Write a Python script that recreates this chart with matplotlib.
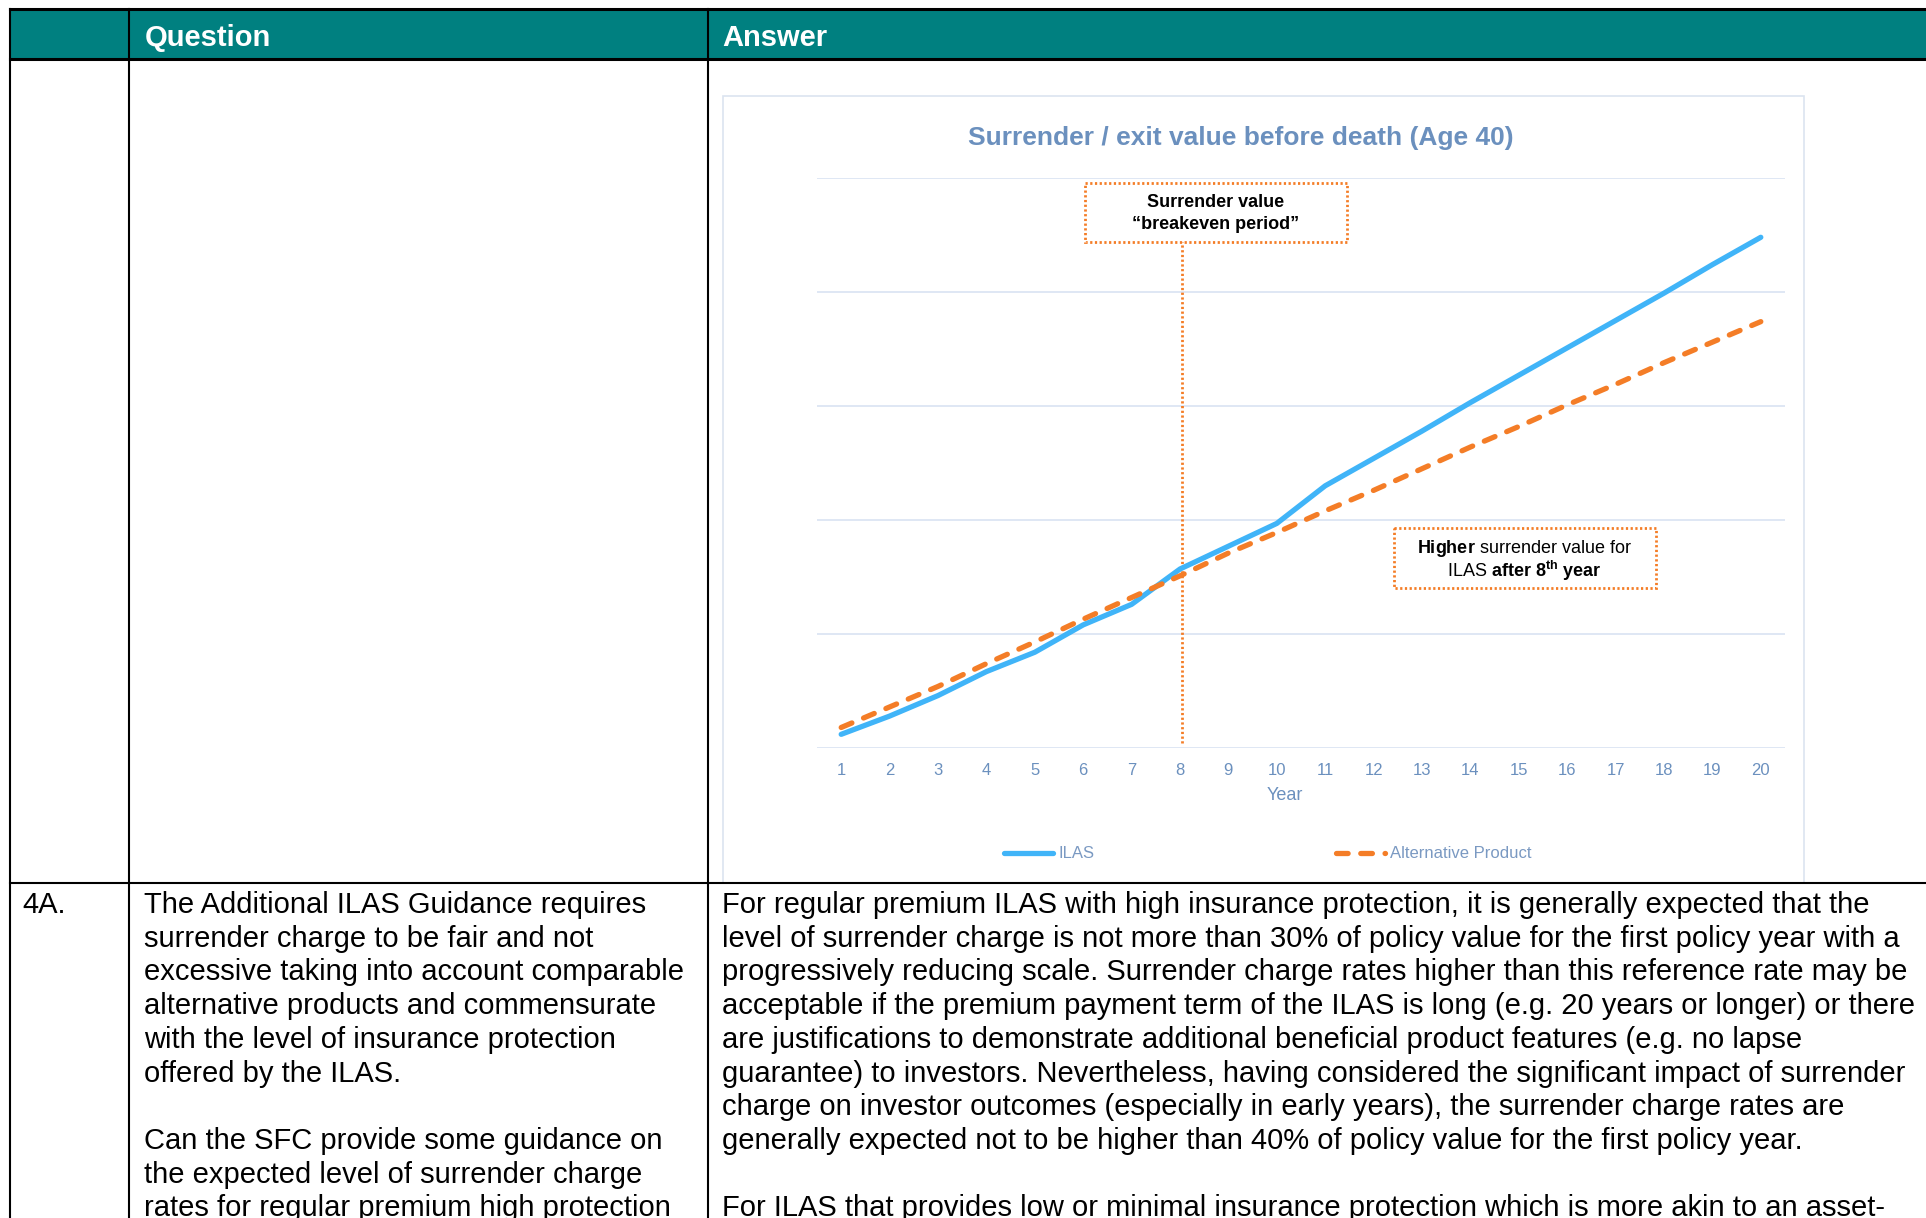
"""Surrender value chart embedded in a Q&A table (ILAS vs alternative product)."""
import matplotlib
matplotlib.use("Agg")
import matplotlib.pyplot as plt
from matplotlib.lines import Line2D
from matplotlib.patches import Rectangle

plt.rcParams['font.family'] = ['Liberation Sans', 'DejaVu Sans']
plt.rcParams['mathtext.fontset'] = 'custom'
plt.rcParams['mathtext.rm'] = 'Liberation Sans'
plt.rcParams['mathtext.bf'] = 'Liberation Sans:bold'
plt.rcParams['mathtext.it'] = 'Liberation Sans:italic'

# ---- data -------------------------------------------------------------
years = list(range(1, 21))
ilas = [0.12, 0.28, 0.46, 0.67, 0.84, 1.08, 1.26, 1.57, 1.77, 1.97,
        2.30, 2.54, 2.78, 3.03, 3.27, 3.51, 3.75, 3.99, 4.24, 4.48]
alternative = [0.18, 0.36, 0.54, 0.74, 0.93, 1.13, 1.32, 1.51, 1.71, 1.89,
               2.08, 2.26, 2.45, 2.64, 2.82, 3.01, 3.19, 3.38, 3.56, 3.74]
series_names = ["ILAS", "Alternative Product"]
breakeven_year = 8

chart_title = "Surrender / exit value before death (Age 40)"
header_cols = ["Question", "Answer"]
row_id = "4A."
question_lines = [
    "The Additional ILAS Guidance requires",
    "surrender charge to be fair and not",
    "excessive taking into account comparable",
    "alternative products and commensurate",
    "with the level of insurance protection",
    "offered by the ILAS.",
    "",
    "Can the SFC provide some guidance on",
    "the expected level of surrender charge",
    "rates for regular premium high protection",
]
answer_lines = [
    "For regular premium ILAS with high insurance protection, it is generally expected that the",
    "level of surrender charge is not more than 30% of policy value for the first policy year with a",
    "progressively reducing scale. Surrender charge rates higher than this reference rate may be",
    "acceptable if the premium payment term of the ILAS is long (e.g. 20 years or longer) or there",
    "are justifications to demonstrate additional beneficial product features (e.g. no lapse",
    "guarantee) to investors. Nevertheless, having considered the significant impact of surrender",
    "charge on investor outcomes (especially in early years), the surrender charge rates are",
    "generally expected not to be higher than 40% of policy value for the first policy year.",
    "",
    "For ILAS that provides low or minimal insurance protection which is more akin to an asset-",
]

# ---- styling ----------------------------------------------------------
W, H = 1926, 1218
TEAL = "#008080"
BLUE = "#40B4F8"
ORANGE = "#F47D27"
GRID = "#D9E3F2"
TXT_BLUE = "#6B90BE"
LEG_TXT = "#7A99C2"

fig = plt.figure(figsize=(W / 100, H / 100), dpi=100)

# page layer in pixel coordinates
page = fig.add_axes([0, 0, 1, 1])
page.set_xlim(0, W)
page.set_ylim(H, 0)
page.axis("off")

# table
page.add_patch(Rectangle((10, 9), W - 10, 50, facecolor=TEAL, edgecolor="none", zorder=1))
page.plot([10, W], [9, 9], color="black", lw=2.2, zorder=3)
page.plot([10, W], [59, 59], color="black", lw=2.2, zorder=3)
page.plot([10, W], [882.5, 882.5], color="black", lw=1.5, zorder=3)
for xv in (10, 129, 707.5):
    page.plot([xv, xv], [9, H], color="black", lw=1.5, zorder=3)

page.text(145, 46.5, header_cols[0], color="white", fontsize=21, fontweight="bold", va="baseline")
page.text(722, 46.5, header_cols[1], color="white", fontsize=21, fontweight="bold", va="baseline")

# chart frame
page.add_patch(Rectangle((723, 96), 1804 - 723, 800, facecolor="white",
                         edgecolor="#DCE4F0", lw=1.2, zorder=1))
page.add_patch(Rectangle((0, 883.5), W, H, facecolor="white", edgecolor="none", zorder=2))

# body text
y0, dy = 913, 33.7
page.text(22, y0, row_id, fontsize=21, va="baseline", zorder=4)
for i, s in enumerate(question_lines):
    page.text(144, y0 + i * dy, s, fontsize=21, va="baseline", zorder=4)
for i, s in enumerate(answer_lines):
    page.text(722, y0 + i * dy, s, fontsize=21, va="baseline", zorder=4)

# chart title, axis label
page.text(1241, 138, chart_title, color=TXT_BLUE, fontsize=19, fontweight="bold",
          ha="center", va="center", zorder=4)
page.text(1285, 795, "Year", color=TXT_BLUE, fontsize=13, ha="center", va="center", zorder=4)

# annotation boxes
dotted = (0, (0.8, 0.9))
page.add_patch(Rectangle((1085, 183), 1347 - 1085, 242 - 183, fill=False,
                         edgecolor=ORANGE, lw=2.0, ls=dotted, zorder=4))
page.text(1216, 202.5, "Surrender value", fontsize=13, fontweight="bold",
          ha="center", va="center", zorder=4)
page.text(1216, 224.5, "\u201cbreakeven period\u201d", fontsize=13, fontweight="bold",
          ha="center", va="center", zorder=4)

page.add_patch(Rectangle((1394, 528), 1656 - 1394, 588 - 528, fill=False,
                         edgecolor=ORANGE, lw=2.0, ls=dotted, zorder=4))
page.text(1524, 548.5, r"$\mathbf{Higher}$ surrender value for", fontsize=13,
          ha="center", va="center", zorder=4)
page.text(1524, 571, r"ILAS $\mathbf{after\ 8^{th}\ year}$", fontsize=13,
          ha="center", va="center", zorder=4)

# ---- line chart -------------------------------------------------------
ax = fig.add_axes([817 / W, 1 - 748 / H, 968 / W, 570 / H])
ax.patch.set_alpha(0)
ax.plot(years, ilas, color=BLUE, lw=3.8, solid_capstyle="round",
        solid_joinstyle="round", zorder=3)
ax.plot(years, alternative, color=ORANGE, lw=3.8, ls=(0, (2.2, 2.4)),
        dash_capstyle="round", zorder=3)
ax.vlines(breakeven_year + 0.05, 0.04, 4.44, colors=ORANGE, lw=2.0, linestyles=[dotted],
          zorder=2, clip_on=False)

ax.set_xlim(0.5, 20.5)
ax.set_ylim(0, 5)
ax.set_xticks(years)
ax.set_xticklabels([str(y) for y in years])
ax.set_yticks(range(6))
ax.set_yticklabels([])
ax.tick_params(axis="x", length=0, pad=10.5, labelsize=12, labelcolor=TXT_BLUE)
ax.tick_params(axis="y", length=0)
ax.grid(axis="y", color=GRID, lw=1.2)
ax.set_axisbelow(True)
for sp in ax.spines.values():
    sp.set_visible(False)

handles = [Line2D([], [], color=BLUE, lw=3.8, solid_capstyle="round"),
           Line2D([], [], color=ORANGE, lw=3.8, ls=(0, (2.2, 2.4)), dash_capstyle="round")]
leg = ax.legend(handles, series_names, loc="center", ncol=2, frameon=False,
                bbox_to_anchor=(1268 / W, 1 - 854 / H), bbox_transform=fig.transFigure,
                fontsize=12, handlelength=2.95, handletextpad=0.3, columnspacing=14.5,
                labelcolor=LEG_TXT)

fig.savefig("out.png", dpi=100)
